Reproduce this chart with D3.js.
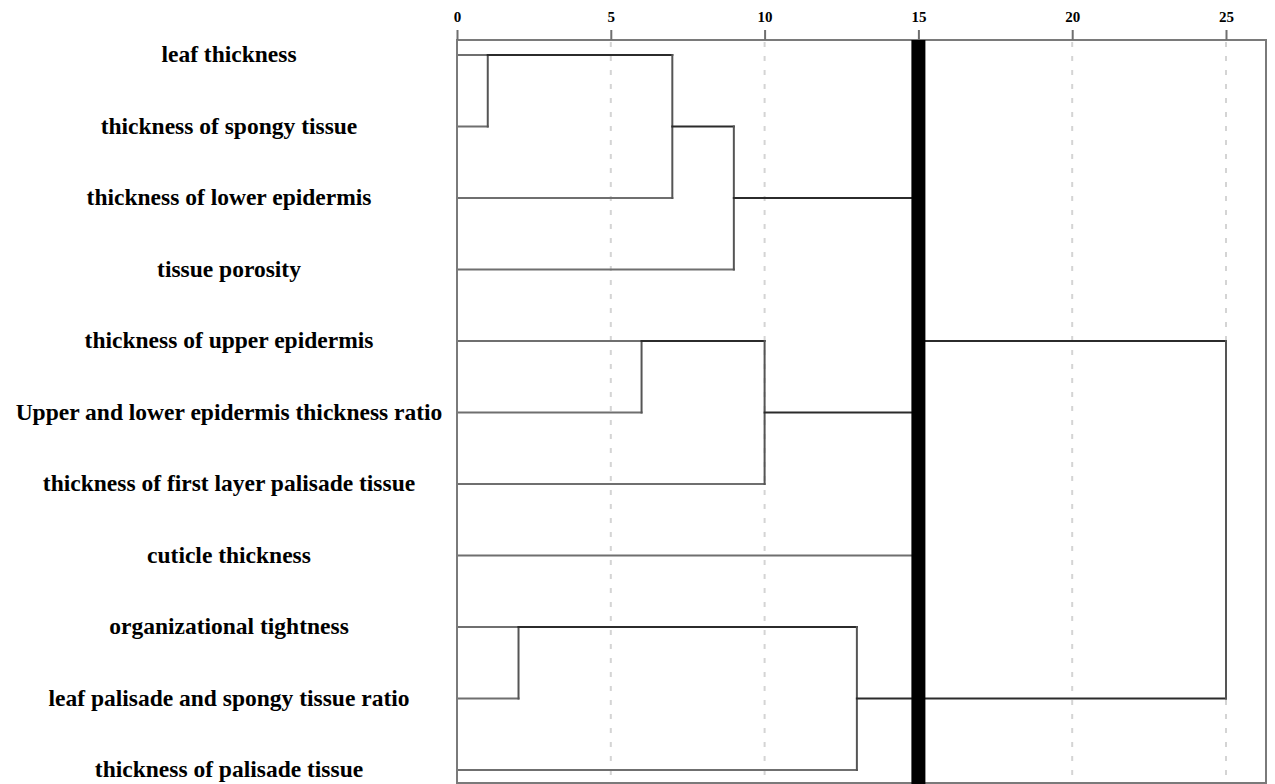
<!DOCTYPE html>
<html>
<head>
<meta charset="utf-8">
<script src="https://cdn.jsdelivr.net/npm/d3@7"></script>
<style>
  html, body { margin: 0; padding: 0; background: #fff; }
  svg { display: block; }
  text { font-family: "Liberation Serif", "Times New Roman", serif; font-weight: bold; fill: #000; }
</style>
</head>
<body>
<svg id="chart" width="1275" height="784"></svg>
<script>
// Traits in dendrogram order (top to bottom)
const traits = [
  "leaf thickness",
  "thickness of spongy tissue",
  "thickness of lower epidermis",
  "tissue porosity",
  "thickness of upper epidermis",
  "Upper and lower epidermis thickness ratio",
  "thickness of first layer palisade tissue",
  "cuticle thickness",
  "organizational tightness",
  "leaf palisade and spongy tissue ratio",
  "thickness of palisade tissue"
];

// Agglomeration schedule: [first cluster, second cluster, rescaled distance]
// Leaves are 0..10; each merge creates cluster id 11, 12, ...
const mergeA = [0, 11, 12,  8,  4, 15, 14, 16, 13, 19];
const mergeB = [1,  2,  3,  9,  5,  6, 10,  7, 18, 17];
const mergeDist = [1, 7, 9, 2, 6, 10, 13, 15, 15, 25];

const tickValues = [0, 5, 10, 15, 20, 25];
const cutDistance = 15;

const svg = d3.select("#chart");

const x = d3.scaleLinear().domain([0, 25]).range([457, 1226]);
const y = d3.scalePoint().domain(d3.range(traits.length)).range([55, 770]);

const frame = { left: 457, top: 40, right: 1266, bottom: 783 };

// Dashed vertical guides
svg.append("g")
  .selectAll("line")
  .data(tickValues.filter(v => v > 0))
  .join("line")
  .attr("x1", d => x(d)).attr("x2", d => x(d))
  .attr("y1", frame.top + 2).attr("y2", frame.bottom)
  .attr("stroke", "#d4d4d4")
  .attr("stroke-width", 2)
  .attr("stroke-dasharray", "5,9");

// Node positions: leaves sit on their row; a merged node sits on the
// row at the lower half of its children's rows (text dendrogram rule)
const nodeRow = traits.map((_, i) => i);
const nodeDist = traits.map(() => 0);
const segments = [];
mergeA.forEach((a, k) => {
  const b = mergeB[k];
  const d = mergeDist[k];
  const ra = nodeRow[a], rb = nodeRow[b];
  // horizontal arms from each child to the merge distance
  segments.push({ x1: nodeDist[a], y1: ra, x2: d, y2: ra, leaf: a < traits.length });
  segments.push({ x1: nodeDist[b], y1: rb, x2: d, y2: rb, leaf: b < traits.length });
  // vertical joining bar
  segments.push({ x1: d, y1: ra, x2: d, y2: rb, leaf: false, vertical: true });
  nodeRow.push(Math.floor((Math.min(ra, rb) + Math.max(ra, rb)) / 2));
  nodeDist.push(d);
});

svg.append("g")
  .selectAll("line")
  .data(segments)
  .join("line")
  .attr("x1", d => x(d.x1)).attr("x2", d => x(d.x2))
  .attr("y1", d => y(d.y1)).attr("y2", d => y(d.y2))
  .attr("stroke", d => d.leaf ? "#6f6f6f" : (d.vertical ? "#555" : "#2b2b2b"))
  .attr("stroke-width", 2)
  .attr("stroke-linecap", "square");

// Plot frame
svg.append("rect")
  .attr("x", frame.left).attr("y", frame.top)
  .attr("width", frame.right - frame.left)
  .attr("height", frame.bottom - frame.top)
  .attr("fill", "none")
  .attr("stroke", "#7a7a7a")
  .attr("stroke-width", 2);

// Cut line at the chosen distance
svg.append("rect")
  .attr("x", x(cutDistance) - 7)
  .attr("y", frame.top)
  .attr("width", 14)
  .attr("height", 784 - frame.top)
  .attr("fill", "#000");

// Top axis
const axis = d3.axisTop(x)
  .tickValues(tickValues)
  .tickSize(10)
  .tickPadding(8)
  .tickFormat(d3.format("d"));

const gAxis = svg.append("g")
  .attr("transform", `translate(0,${frame.top})`)
  .call(axis);
gAxis.select(".domain").remove();
gAxis.selectAll(".tick line").attr("stroke", "#6f6f6f").attr("stroke-width", 2);
gAxis.selectAll(".tick text")
  .style("font-family", "'Liberation Serif', 'Times New Roman', serif")
  .style("font-weight", "bold")
  .style("font-size", "15px")
  .attr("fill", "#000");

// Trait labels
svg.append("g")
  .selectAll("text")
  .data(traits)
  .join("text")
  .attr("x", 229)
  .attr("y", (d, i) => y(i) + 7)
  .attr("text-anchor", "middle")
  .style("font-size", "23.5px")
  .text(d => d);
</script>
</body>
</html>
